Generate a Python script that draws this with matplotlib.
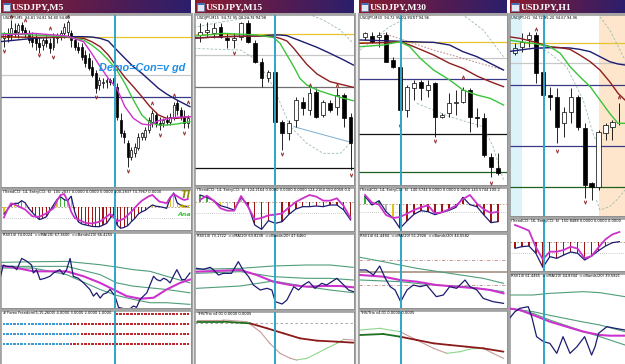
import matplotlib
matplotlib.use("Agg")
import matplotlib.pyplot as plt
import numpy as np
from matplotlib.colors import LinearSegmentedColormap
from matplotlib.patches import Rectangle

# ---------------- USDJPY M5 ----------------
m5_open = [95.045, 95.06, 95.055, 95.07, 95.065, 95.085, 95.07, 95.06, 95.05, 95.045,
           95.03, 95.025, 95.04, 95.03, 95.02, 95.045, 95.055, 95.06, 95.065, 95.06,
           95.04, 95.02, 95.02, 94.995, 94.985, 94.96, 94.94, 94.905, 94.91, 94.915,
           94.92, 94.925, 94.90, 94.80, 94.76, 94.73, 94.69, 94.70, 94.715, 94.75,
           94.75, 94.77, 94.795, 94.815, 94.79, 94.79, 94.80, 94.795, 94.805, 94.85,
           94.83, 94.81, 94.79]
m5_high = [95.065, 95.075, 95.10, 95.09, 95.09, 95.095, 95.08, 95.07, 95.065, 95.06,
           95.05, 95.045, 95.055, 95.045, 95.06, 95.06, 95.07, 95.09, 95.10, 95.07,
           95.05, 95.035, 95.03, 95.01, 95.00, 94.98, 94.95, 94.93, 94.925, 94.925,
           94.925, 94.93, 94.91, 94.82, 94.77, 94.74, 94.72, 94.73, 94.76, 94.765,
           94.78, 94.81, 94.83, 94.825, 94.81, 94.805, 94.815, 94.82, 94.855, 94.86,
           94.84, 94.83, 94.815]
m5_low = [95.02, 95.035, 95.04, 95.05, 95.045, 95.06, 95.05, 95.03, 95.02, 95.01,
          95.00, 95.01, 95.02, 95.00, 95.01, 95.03, 95.04, 95.045, 95.05, 95.02,
          95.01, 95.00, 94.98, 94.96, 94.95, 94.93, 94.88, 94.89, 94.895, 94.895,
          94.905, 94.89, 94.80, 94.75, 94.73, 94.66, 94.68, 94.69, 94.71, 94.74,
          94.74, 94.76, 94.78, 94.78, 94.77, 94.78, 94.785, 94.785, 94.80, 94.815,
          94.80, 94.775, 94.775]
m5_close = [95.06, 95.05, 95.075, 95.06, 95.085, 95.07, 95.06, 95.04, 95.035, 95.03,
            95.02, 95.04, 95.03, 95.015, 95.05, 95.055, 95.06, 95.08, 95.095, 95.04,
            95.02, 95.01, 94.99, 94.97, 94.955, 94.935, 94.895, 94.92, 94.915, 94.92,
            94.915, 94.905, 94.81, 94.76, 94.75, 94.69, 94.71, 94.72, 94.75, 94.76,
            94.77, 94.80, 94.82, 94.79, 94.785, 94.80, 94.795, 94.81, 94.845, 94.83,
            94.81, 94.79, 94.805]
m5_ma_x = [-1.1, 8.3, 17.7, 22.5, 24.8, 27.2, 29.5, 31.9, 34.2, 36.6, 39, 41.3, 43.7, 46, 48.9, 52.6]
m5_ma_navy = [95.035, 95.045, 95.05, 95.05, 95.049, 95.045, 95.037, 95.01, 94.985, 94.96,
              94.94, 94.918, 94.895, 94.878, 94.86, 94.84]
m5_ma_red = [95.05, 95.048, 95.048, 95.045, 95.035, 95.02, 94.995, 94.96, 94.928, 94.90,
             94.87, 94.84, 94.815, 94.805, 94.805, 94.81]
m5_ma_green = [95.06, 95.055, 95.05, 95.04, 95.025, 95.005, 94.98, 94.95, 94.91, 94.86,
               94.815, 94.792, 94.785, 94.785, 94.788, 94.795]
m5_ma_pink = [95.055, 95.06, 95.052, 95.035, 95.00, 94.96, 94.925, 94.895, 94.84, 94.805,
              94.788, 94.785, 94.798, 94.803, 94.808, 94.81]
m5_levels = [95.05, 94.935, 94.87]
m5_up_x = [2, 6, 13, 18, 42, 48, 52]
m5_up_y = [95.112, 95.10, 95.075, 95.112, 94.85, 94.875, 94.855]
m5_dn_x = [0, 10, 14, 26, 35, 44, 51]
m5_dn_y = [95.008, 94.995, 94.99, 94.868, 94.648, 94.755, 94.76]
m5_cci_trend = [-60, -20, 20, 36, 36, 60, 40, -10, -45, -80, -110, -100, -84, -30, 21, 70,
                96, 70, 60, 100, -40, -130, -150, -158, -165, -172, -174, -174, -160, -145,
                -100, -60, -160, -189, -180, -165, -130, -100, -60, -40, -26, 0, 21, 10, 6,
                0, -9, 80, 130, 40, 20, 10, 6]
m5_cci_entry = [-90, -20, 36, 25, 10, -5, -20, -50, -80, -84, -84, -70, -54, -30, -9, 60,
                111, 120, 60, -40, -95, -110, -125, -140, -144, -144, -138, -129, -110, -84,
                -60, -90, -125, -115, -100, -70, -40, -5, 30, 60, 80, 100, 111, 80, 51, 45,
                36, 90, 120, 100, 80, 66, 75]
m5_cci_cols = "yygyggy" + "rrrrrrr" + "gyggyy" + "r" * 21 + "yyyyyy" + "yyyyyy"
m5_rsi_x = [-1.1, -0.2, 0.75, 2.6, 3.6, 5, 6.4, 7.8, 8.3, 9.2, 10.2, 11.6, 13, 14, 15.8,
            16.8, 17.7, 18.7, 19.6, 21, 22.5, 24.3, 25.3, 26.2, 27.2, 28.1, 29.1, 30, 31.4,
            32.4, 33.8, 35.7, 36.6, 37.5, 38.5, 40.4, 42.3, 43.2, 44.2, 45.1, 46, 47, 47.9,
            48.9, 50.3, 51.2, 52.6]
m5_rsi = [46, 56, 55, 55, 52.5, 61, 59, 56, 50, 52.5, 45, 46, 47.5, 50, 52.5, 49, 52.5, 61,
          47.5, 46, 42.5, 37.5, 32.5, 35, 31, 34, 35, 37.5, 32.5, 24, 23, 23, 25, 24, 30,
          35, 47.5, 45, 44, 46, 45, 42.5, 47.5, 52.5, 45, 45, 50]
m5_rsi_ma_x = [-1.1, 3.6, 8.3, 13, 17.7, 22.5, 27.2, 31.9, 34.7, 38.5, 42.3, 46, 49.8, 52.6]
m5_rsi_ma = [55.5, 53.75, 51.25, 51.25, 51.25, 47.5, 42.5, 36.25, 32.5, 30.5, 31.25, 37.5, 42.5, 45]
m5_band_x = [-1.1, 8.3, 17.7, 27.2, 31.9, 36.6, 41.3, 46, 52.6]
m5_band_hi = [58, 58.5, 58.75, 56.25, 54.5, 52.5, 51.25, 47.5, 42.5]
m5_band_mid = [55, 55, 55, 48.75, 42.5, 40, 38.75, 37.5, 35]
m5_band_lo = [53.75, 53.75, 48.75, 37.5, 33, 30, 27.5, 27.5, 26.25]
ff_levels = [4, 3, 2, 1]
ff_start = [32, 0, 0, 0]
ff_red_from = [32, 19, 22, 19]

# ---------------- USDJPY M15 ----------------
m15_open = [95.195, 95.205, 95.20, 95.22, 95.185, 95.18, 95.19, 95.23, 95.17, 95.115, 95.065,
            95.085, 94.935, 94.90, 94.94, 94.995, 94.97, 95.025, 94.955, 94.99, 94.98, 95.015, 94.95]
m15_high = [95.23, 95.235, 95.23, 95.23, 95.20, 95.20, 95.235, 95.24, 95.18, 95.125, 95.09,
            95.09, 94.94, 94.94, 95.01, 95.01, 95.035, 95.035, 95.00, 95.00, 95.035, 95.02, 94.96]
m15_low = [95.175, 95.19, 95.185, 95.185, 95.155, 95.155, 95.18, 95.17, 95.11, 95.04, 95.055,
           94.93, 94.85, 94.88, 94.92, 94.955, 94.955, 94.945, 94.95, 94.965, 94.955, 94.92, 94.79]
m15_close = [95.205, 95.21, 95.215, 95.19, 95.18, 95.185, 95.23, 95.175, 95.115, 95.065, 95.085,
             94.935, 94.90, 94.93, 95.00, 94.975, 95.02, 94.95, 94.995, 94.97, 95.015, 94.945, 94.87]
m15_ma_x = [-1.5, 3.4, 8.3, 10.7, 11.7, 12.7, 13.7, 14.6, 15.6, 17.1, 19, 21, 22.4]
m15_ma_navy = [95.185, 95.19, 95.192, 95.195, 95.195, 95.193, 95.185, 95.178, 95.17, 95.158,
               95.14, 95.12, 95.105]
m15_ma_red = [95.185, 95.19, 95.192, 95.19, 95.185, 95.177, 95.155, 95.132, 95.107, 95.078,
              95.055, 95.045, 95.038]
m15_ma_green = [95.19, 95.20, 95.195, 95.188, 95.17, 95.135, 95.10, 95.065, 95.045, 95.03,
                95.017, 95.005, 94.998]
m15_env_hi_x = [-1.5, 3.4, 8.3, 13.2, 15.6, 18, 20.5, 22.4]
m15_env_hi = [95.215, 95.235, 95.25, 95.27, 95.26, 95.24, 95.21, 95.17]
m15_env_lo_x = [-1.5, 5.9, 8.3, 10.7, 13.2, 15.6, 18, 20.5, 22.4]
m15_env_lo = [95.155, 95.15, 95.12, 95.04, 94.92, 94.87, 94.84, 94.84, 94.88]
m15_trend_x = [13.7, 21.7]
m15_trend = [94.92, 94.875]
m15_levels = [95.198, 95.135, 95.038, 94.795]
m15_up_x = [16, 20]
m15_up_y = [95.045, 95.045]
m15_dn_x = [5, 12, 22]
m15_dn_y = [95.14, 94.838, 94.775]
m15_cci_trend = [60, 39, 9, -36, -54, -75, 39, -30, -210, -249, -171, -195, -180, -114, -66,
                 -45, -45, -39, -45, -30, -30, -75, -165]
m15_cci_entry = [15, 54, 9, -60, -81, -81, 51, -45, -159, -147, -123, -117, -105, -51, -3, 30,
                 60, 45, 9, 9, 30, -39, -150]
m15_cci_cols = "ggsyyrsr" + "r" * 15
m15_rsi_x = [-0.5, 0.5, 1.5, 2, 2.7, 3.4, 4.6, 5.6, 6.3, 7.1, 7.8, 8.8, 9.8, 10.5, 11, 12,
             12.7, 13.7, 14.4, 15.1, 15.9, 16.8, 17.8, 18.5, 20, 21, 21.7, 22.4]
m15_rsi = [53.75, 53, 54.5, 52.5, 48.75, 50, 50, 58.75, 52.5, 47.5, 41.25, 37.5, 38.75, 37.5,
           28.75, 27, 30, 40, 37.5, 41.25, 43.75, 38.75, 42.5, 41.25, 46.25, 41.25, 37.5, 36.25]
m15_rsi_ma_x = [-0.5, 3.4, 5.9, 8.3, 10.7, 13.2, 15.6, 18, 20.5, 22.4]
m15_rsi_ma = [51.25, 52, 52.5, 48.75, 43.75, 41.25, 40, 40.5, 40.5, 39.5]
m15_band_x = [-0.5, 5.9, 10.7, 15.6, 19, 22.4]
m15_band_hi = [53, 53.75, 55.5, 56.25, 56.25, 54.5]
m15_band_mid = [50, 51.25, 47.5, 46.25, 46.25, 45]
m15_band_lo = [38.75, 40.5, 44.25, 40, 37.5, 35.5]
m15_thv_slow_x = [-0.5, 3.4, 7.3, 9.8, 12.2, 14.6, 17.1, 20, 22.4]
m15_thv_slow = [0.05, 0.05, 0.0, -0.15, -0.3, -0.45, -0.52, -0.55, -0.58]
m15_thv_fast_x = [-0.5, 3.4, 6.8, 8.8, 10.2, 11.7, 13.2, 14.1, 15.6, 17.1, 18.5, 20, 21, 22.4]
m15_thv_fast = [0.1, 0.1, 0.05, -0.25, -0.6, -0.9, -1.05, -1.1, -1.05, -0.9, -0.75, -0.6, -0.48, -0.5]

# ---------------- USDJPY M30 ----------------
m30_open = [95.19, 95.192, 95.19, 95.195, 95.12, 95.10, 94.97, 95.035, 95.055, 95.03,
            95.05, 94.95, 94.96, 94.99, 94.995, 95.03, 94.95, 94.945, 94.83, 94.795]
m30_high = [95.205, 95.205, 95.205, 95.205, 95.13, 95.105, 95.045, 95.06, 95.06, 95.06,
            95.055, 94.96, 95.02, 95.03, 95.04, 95.035, 94.975, 94.96, 94.84, 94.84]
m30_low = [95.18, 95.17, 95.16, 95.115, 95.095, 94.93, 94.95, 95.00, 95.00, 95.01,
           94.89, 94.945, 94.95, 94.955, 94.99, 94.905, 94.92, 94.83, 94.77, 94.775]
m30_close = [95.20, 95.175, 95.195, 95.115, 95.10, 94.97, 95.04, 95.05, 95.035, 95.045,
             94.95, 94.955, 94.99, 94.995, 95.03, 94.95, 94.945, 94.835, 94.80, 94.78]
m30_ma_x = [-0.7, 2.6, 5, 6.4, 7.9, 9.8, 12.1, 14, 16, 17.9, 19.8]
m30_ma_navy = [95.18, 95.178, 95.176, 95.175, 95.174, 95.173, 95.165, 95.145, 95.13, 95.11, 95.09]
m30_ma_red = [95.17, 95.172, 95.175, 95.165, 95.152, 95.135, 95.11, 95.095, 95.072, 95.055, 95.04]
m30_ma_green = [95.16, 95.165, 95.175, 95.16, 95.125, 95.09, 95.06, 95.03, 95.015, 95.005, 94.985]
m30_dash_x = [2.6, 9.8, 19.8]
m30_dash = [95.20, 95.15, 95.09]
m30_env_hi_x = [-0.7, 3.5, 6.4, 13.6, 16.9, 19.8]
m30_env_hi = [95.15, 95.22, 95.25, 95.262, 95.21, 95.13]
m30_env_lo_x = [7.4, 12.1, 16.9, 18.3, 19.8]
m30_env_lo = [94.99, 94.95, 94.92, 94.86, 94.76]
m30_levels = [95.175, 95.125, 95.063, 94.897, 94.785]
m30_up_x = [14]
m30_up_y = [95.068]
m30_dn_x = [5, 10, 18]
m30_dn_y = [94.922, 94.878, 94.75]
m30_cci_trend = [92, -12, 40, -92, -168, -292, -204, -124, -80, -92, -128, -100, -76, -40, 80,
                 -8, -32, -132, -224, -212]
m30_cci_entry = [108, 16, -8, -132, -168, -156, -116, -72, -40, -16, -112, -100, -64, -20, 60,
                 108, 4, -64, -108, -92]
m30_cci_cols = "grgsy" + "r" * 15
m30_rsi_x = [-0.7, 0.2, 1.2, 2.1, 2.9, 3.6, 4.3, 5.1, 6, 6.9, 7.9, 8.8, 10.2, 11.2, 12.1,
             13.1, 14.3, 15, 16, 16.9, 18.3, 19.8]
m30_rsi = [52.5, 52.5, 48.75, 55.5, 46.25, 40, 37.5, 28.75, 37.5, 41.25, 40, 41.25, 32.5,
           33.75, 40, 38.75, 45, 40, 37.5, 31.25, 28.75, 27.5]
m30_rsi_ma_x = [-0.7, 2.6, 5, 7.4, 10.2, 13.1, 16, 17.9, 19.8]
m30_rsi_ma = [48.75, 47.5, 45, 43.75, 41.25, 40, 38.75, 37.5, 35]
m30_band_hi_x = [-0.7, 2.6, 7.4, 12.1, 16.9, 19.8]
m30_band_hi = [62, 58.75, 53.75, 50, 46.25, 42.5]
m30_band_lo_x = [-0.7, 5, 9.8, 14.5, 19.8]
m30_band_lo = [45, 43.75, 41.25, 40, 36.25]
m30_rsi_levels = [60, 51.25, 41.25]
m30_thv_slow_x = [-0.7, 2.6, 5, 7.4, 9.8, 12.1, 14.5, 16.9, 19.8]
m30_thv_slow = [-0.35, -0.32, -0.4, -0.5, -0.6, -0.65, -0.7, -0.75, -0.85]
m30_thv_fast_x = [-0.7, 2.1, 5, 7.4, 9.8, 11.7, 13.6, 15.5, 16.9, 18.3, 19.8]
m30_thv_fast = [-0.2, -0.15, -0.25, -0.5, -0.75, -0.9, -0.85, -0.75, -0.75, -0.9, -1.05]

# ---------------- USDJPY H1 ----------------
h1_open = [95.24, 95.26, 95.282, 95.295, 95.185, 95.115, 95.11, 95.03, 95.065, 95.11,
           95.015, 94.85, 94.84, 95.00, 95.02, 95.03]
h1_high = [95.27, 95.30, 95.305, 95.305, 95.20, 95.14, 95.135, 95.08, 95.135, 95.115,
           95.03, 94.855, 95.01, 95.03, 95.04, 95.09]
h1_low = [95.235, 95.245, 95.26, 95.15, 95.115, 95.07, 94.97, 94.99, 95.03, 95.01,
          94.806, 94.80, 94.83, 94.98, 94.98, 95.025]
h1_close = [95.255, 95.275, 95.295, 95.18, 95.115, 95.11, 95.02, 95.065, 95.11, 95.02,
            94.845, 94.84, 95.005, 95.025, 95.035, 95.03]
h1_ma_x = [-1, 0.7, 2.6, 5, 6.5, 7.9, 9.3, 10.8, 12.2, 13.6, 14.8, 15.8]
h1_ma_navy = [95.245, 95.25, 95.255, 95.257, 95.257, 95.256, 95.252, 95.245, 95.23, 95.215, 95.208, 95.205]
h1_ma_red = [95.29, 95.285, 95.275, 95.26, 95.257, 95.252, 95.235, 95.215, 95.19, 95.155, 95.12, 95.10]
h1_ma_green = [95.28, 95.275, 95.27, 95.26, 95.24, 95.20, 95.17, 95.14, 95.10, 95.06, 95.03, 95.03]
h1_env_a_x = [2.6, 5, 7.4, 9.8, 11.2, 12.2]
h1_env_a = [95.27, 95.24, 95.20, 95.10, 95.00, 94.95]
h1_env_b_x = [11.7, 12.2, 13.6, 14.6, 15.8]
h1_env_b = [94.80, 94.77, 94.78, 94.80, 94.83]
h1_env_c_x = [12.2, 13.6, 14.6, 15.8]
h1_env_c = [95.35, 95.31, 95.27, 95.22]
h1_levels = [95.27, 95.21, 95.145, 94.963, 94.84]
h1_up_x = [3, 15]
h1_up_y = [95.312, 95.108]
h1_dn_x = [6, 10]
h1_dn_y = [94.948, 94.794]
h1_session_a = [-0.72, 0.96]
h1_session_b = [12.1, 15.8]
h1_cci_trend = [-60, -45, -39, -105, -231, -135, -150, -120, -93, -105, -165, -129, -81, -39, -9, 0]
h1_cci_entry = [150, 126, 99, -51, -159, -90, -90, -75, -45, -63, -150, -129, -51, 21, 66, 87]
h1_cci_cols = "r" * 16
h1_rsi_x = [-1, 0, 0.7, 1.9, 2.4, 3.1, 4.1, 5, 6, 6.9, 7.9, 8.9, 10, 11, 11.5, 12, 13.2, 14.4, 15.8]
h1_rsi = [52.5, 58.75, 61.25, 62.5, 55, 40, 36.25, 35, 27.5, 40, 27.5, 32.5, 40, 26.25, 32.5,
          42.5, 47.5, 46.25, 45]
h1_rsi_ma_x = [-1, 0.7, 2.6, 5, 7.4, 9.8, 12.2, 13.6, 15.8]
h1_rsi_ma = [61.25, 60, 56.25, 51.25, 47.5, 43.75, 41.25, 40.75, 40.75]
h1_band_x = [-1, 2.6, 5, 9.8, 12.2, 15.8]
h1_band_hi = [71.25, 71.25, 72.5, 73.75, 73, 70]
h1_band_mid = [61.25, 58.75, 56, 51, 48.75, 43.75]
h1_band_lo = [61.25, 57.5, 52.5, 44, 40, 33.75]

cursor = {"m5": 31.4, "m15": 10.9, "m30": 5.1, "h1": 4.1}

# ---------------- drawing ----------------
W, H = 625, 364
NAVY = "#1c1c72"
DRED = "#8e1e1e"
GREEN = "#3cc43c"
PINK = "#cc33cc"
CYAN = "#2fa6c9"
BAND = "#4f9e7a"
ARROW = "#9a2a2a"
HIST = {"r": "#a01515", "y": "#e0c21a", "g": "#3fae3f", "s": "#b5b5b5"}
THIN = {"p": "#c99a9a", "g": "#8fd68f"}
THICK = {"r": "#8b1a1a", "g": "#1f6f1f"}
HFS = 2.6

fig = plt.figure(figsize=(W / 100, H / 100), dpi=100)
fig.patch.set_facecolor("white")
title_cmap = LinearSegmentedColormap.from_list("tb", ["#8b1d2f", "#5a1c4e", "#2b1f6c"])


def frame(x0, x1):
    fig.add_artist(Rectangle(((x0 - 1) / W, 0), (x1 - x0 + 2) / W, 1 - 13 / H,
                             transform=fig.transFigure, color="#a4a4a4", zorder=0))
    ax = fig.add_axes([x0 / W, 1 - 13 / H, (x1 - x0) / W, 13 / H])
    ax.imshow(np.linspace(0, 1, 256).reshape(1, -1), aspect="auto", cmap=title_cmap,
              extent=(0, 1, 0, 1))
    ax.axis("off")
    return ax


def title(x0, x1, text):
    ax = frame(x0, x1)
    wpx = x1 - x0
    ax.add_patch(Rectangle((1.5 / wpx, 0.18), 7 / wpx, 0.62, transform=ax.transAxes,
                           facecolor="#dfe8f4", edgecolor="#5a7ab0", lw=0.5))
    ax.add_patch(Rectangle((1.5 / wpx, 0.62), 7 / wpx, 0.18, transform=ax.transAxes,
                           facecolor="#3f6fb8", lw=0))
    ax.text(11 / wpx, 0.45, text, transform=ax.transAxes, color="white", fontsize=6.8,
            fontweight="bold", family="Liberation Serif", va="center", ha="left")


def pane(x0, y0, x1, y1, xlim, ylim):
    ax = fig.add_axes([x0 / W, 1 - y1 / H, (x1 - x0) / W, (y1 - y0) / H])
    ax.set_xlim(*xlim)
    ax.set_ylim(*ylim)
    ax.set_xticks([])
    ax.set_yticks([])
    for s in ax.spines.values():
        s.set_color("#8a8a8a")
        s.set_linewidth(0.5)
    return ax


def header(ax, text):
    ax.text(0.01, 0.995, text, transform=ax.transAxes, va="top", ha="left",
            fontsize=HFS, color="black", zorder=9)


def candles(ax, o, h, l, c, body_w):
    idx = np.arange(len(o))
    o = np.asarray(o)
    c = np.asarray(c)
    ax.vlines(idx, l, h, color="black", lw=0.6, zorder=3)
    face = ["white" if cc >= oo else "black" for oo, cc in zip(o, c)]
    ax.bar(idx, np.abs(c - o), bottom=np.minimum(o, c), width=body_w, color=face,
           edgecolor="black", linewidth=0.5, zorder=4)


def fractals(ax, ux, uy, dx, dy):
    ax.plot(ux, uy, ls="none", marker=r"$\wedge$", ms=2.3, mew=0.3, color=ARROW, zorder=6)
    ax.plot(dx, dy, ls="none", marker=r"$\vee$", ms=2.3, mew=0.3, color=ARROW, zorder=6)


def mas(ax, x, navy, red, green, pink=None):
    ax.plot(x, navy, color=NAVY, lw=1.0, zorder=5)
    ax.plot(x, red, color=DRED, lw=1.0, zorder=5)
    ax.plot(x, green, color=GREEN, lw=1.0, zorder=5)
    if pink is not None:
        ax.plot(x, pink, color=PINK, lw=1.0, zorder=5)


def levels(ax, vals, cols):
    for v, col in zip(vals, cols):
        ax.axhline(v, color=col, lw=0.9, zorder=2)


def cci(ax, trend, entry, cols, bar_w, text):
    idx = np.arange(len(trend))
    ax.bar(idx, trend, width=bar_w, color=[HIST[k] for k in cols], zorder=2)
    ax.axhline(0, color="#b29a7a", ls=(0, (2, 2)), lw=0.6, zorder=1)
    ax.axhline(-100, color="#9a9a9a", ls=(0, (1, 2)), lw=0.5, zorder=1)
    ax.plot(idx, trend, color=NAVY, lw=0.9, zorder=3)
    ax.plot(idx, entry, color=PINK, lw=1.3, zorder=4)
    header(ax, text)


def rsi(ax, x, vals, ma_x, ma, bands, text):
    for bx, by in bands:
        ax.plot(bx, by, color=BAND, lw=0.8, zorder=2)
    ax.plot(ma_x, ma, color=PINK, lw=1.5, zorder=3)
    ax.plot(x, vals, color=NAVY, lw=0.9, zorder=4)
    header(ax, text)


def thv(ax, sx, sv, scols, fx, fv, fcols, text):
    for i in range(len(fv) - 1):
        ax.plot(fx[i:i + 2], fv[i:i + 2], color=THIN[fcols[i]], lw=0.8, zorder=2)
    for i in range(len(sv) - 1):
        ax.plot(sx[i:i + 2], sv[i:i + 2], color=THICK[scols[i]], lw=1.3, zorder=3,
                solid_capstyle="round")
    header(ax, text)


def cursor_line(axes, x):
    for ax in axes:
        ax.axvline(x, color=CYAN, lw=1.4, zorder=7)


# ----- window 1 : M5 -----
x0, x1 = 1, 191
xl = (-0.85, 52.9)
title(x0, x1, "USDJPY,M5")
a_main = pane(x0, 15, x1, 187, xl, (94.599, 95.115))
levels(a_main, m5_levels, ["#e6c42c", "#c8c8c8", "#3a3a86"])
candles(a_main, m5_open, m5_high, m5_low, m5_close, 0.55)
mas(a_main, m5_ma_x, m5_ma_navy, m5_ma_red, m5_ma_green, m5_ma_pink)
fractals(a_main, m5_up_x, m5_up_y, m5_dn_x, m5_dn_y)
header(a_main, "USDJPY,M5  94.81 94.81 94.80 94.81")
a_main.text(26.9, 94.955, "Demo=Con=v gd", color="#1f8fe6", fontsize=7.8, fontweight="bold",
            style="italic", family="Liberation Sans", va="center", ha="left", zorder=8)
a_cci = pane(x0, 190, x1, 230, xl, (-204, 156))
cci(a_cci, m5_cci_trend, m5_cci_entry, m5_cci_cols, 0.3,
    "(TrendCCI: 14, EntryCCI: 6)  100.2837 0.0000 0.0000 0.0000 100.2837 74.7967 0.0000")
a_cci.text(52.9, 112, "TI", color="#8c8c10", fontsize=7, fontweight="bold", style="italic",
           va="center", ha="right", zorder=8)
a_cci.text(52.9, 5, "Asc", color="#c9b516", fontsize=4.6, fontweight="bold", style="italic",
           va="center", ha="right", zorder=8)
a_cci.text(52.9, -68, "Ana", color="#36c436", fontsize=4.6, fontweight="bold", style="italic",
           va="center", ha="right", zorder=8)
a_rsi = pane(x0, 233, x1, 308, xl, (23.5, 80.25))
rsi(a_rsi, m5_rsi_x, m5_rsi, m5_rsi_ma_x, m5_rsi_ma,
    [(m5_band_x, m5_band_hi), (m5_band_x, m5_band_mid), (m5_band_x, m5_band_lo)],
    "RSI(14) 74.0024  ==MA(20) 67.3600  ==Bands(20) 66.4255")
a_ff = pane(x0, 311, x1, 364, xl, (-1, 4.3))
for lvl, start, red_from in zip(ff_levels, ff_start, ff_red_from):
    bars = np.arange(start, len(m5_close))
    cols = np.where(bars < red_from, "#3d9ad6", "#c0282d")
    a_ff.scatter(bars, np.full(len(bars), lvl), marker="s", s=3.2, c=cols, linewidths=0, zorder=3)
header(a_ff, "# Forex Freedom(5,15,2600) 4.0000 3.0000 2.0000 1.0000")
cursor_line([a_main, a_cci, a_rsi, a_ff], cursor["m5"])

# ----- window 2 : M15 -----
x0, x1 = 195, 354
xl = (-0.73, 22.5)
title(x0, x1, "USDJPY,M15")
a_main = pane(x0, 15, x1, 185, xl, (94.745, 95.255))
levels(a_main, m15_levels, ["#e6c42c", "#c8c8c8", "#707070", "#111111"])
a_main.plot(m15_env_hi_x, m15_env_hi, color="#9cbcb0", lw=0.6, ls=(0, (3, 2)), zorder=2)
a_main.plot(m15_env_lo_x, m15_env_lo, color="#9cbcb0", lw=0.6, ls=(0, (3, 2)), zorder=2)
a_main.plot(m15_trend_x, m15_trend, color="#7aaed0", lw=0.7, zorder=2)
candles(a_main, m15_open, m15_high, m15_low, m15_close, 0.55)
mas(a_main, m15_ma_x, m15_ma_navy, m15_ma_red, m15_ma_green)
fractals(a_main, m15_up_x, m15_up_y, m15_dn_x, m15_dn_y)
header(a_main, "USDJPY,M15  94.72 95.08 94.72 94.98")
a_cci = pane(x0, 188, x1, 231, xl, (-264, 123))
cci(a_cci, m15_cci_trend, m15_cci_entry, m15_cci_cols, 0.2,
    "(TrendCCI: 14, EntryCCI: 6)  124.2164 0.0000 0.0000 0.0000 124.2164 150.0058 0.0")
a_rsi = pane(x0, 234, x1, 309, xl, (23.25, 79.5))
rsi(a_rsi, m15_rsi_x, m15_rsi, m15_rsi_ma_x, m15_rsi_ma,
    [(m15_band_x, m15_band_hi), (m15_band_x, m15_band_mid), (m15_band_x, m15_band_lo)],
    "RSI(14) 73.1722  ==MA(20) 63.8238  ==Bands(20) 47.6460")
a_thv = pane(x0, 312, x1, 364, xl, (-1.22, 0.34))
a_thv.axhline(0, color="#9a9a9a", ls=(0, (3, 3)), lw=0.6)
thv(a_thv, m15_thv_slow_x, m15_thv_slow, "ggrrrrrr", m15_thv_fast_x, m15_thv_fast,
    "pppppppgggggp", "THV/Trix v4.01 0.0000 0.0005")
cursor_line([a_main, a_cci, a_rsi, a_thv], cursor["m15"])

# ----- window 3 : M30 -----
x0, x1 = 359, 507
xl = (-0.86, 20.3)
title(x0, x1, "USDJPY,M30")
a_main = pane(x0, 15, x1, 185, xl, (94.745, 95.255))
levels(a_main, m30_levels, ["#e6c42c", "#c8c8c8", "#3a3a86", "#111111", "#1f5f1f"])
a_main.plot(m30_env_hi_x, m30_env_hi, color="#9cbcb0", lw=0.6, ls=(0, (3, 2)), zorder=2)
a_main.plot(m30_env_lo_x, m30_env_lo, color="#9cbcb0", lw=0.6, ls=(0, (3, 2)), zorder=2)
a_main.plot(m30_dash_x, m30_dash, color="#b07070", lw=0.6, ls=(0, (2, 2)), zorder=2)
candles(a_main, m30_open, m30_high, m30_low, m30_close, 0.55)
mas(a_main, m30_ma_x, m30_ma_navy, m30_ma_red, m30_ma_green)
fractals(a_main, m30_up_x, m30_up_y, m30_dn_x, m30_dn_y)
header(a_main, "USDJPY,M30  94.72 95.03 94.67 94.96")
a_cci = pane(x0, 188, x1, 231, xl, (-324, 192))
cci(a_cci, m30_cci_trend, m30_cci_entry, m30_cci_cols, 0.2,
    "(TrendCCI: 14, EntryCCI: 6)  140.5744 0.0000 0.0000 0.0000 140.5744 100.2")
a_rsi = pane(x0, 234, x1, 308, xl, (24, 79.5))
a_rsi.axhline(m30_rsi_levels[0], color="#c08888", ls=(0, (4, 2, 1, 2)), lw=0.6)
a_rsi.axhline(m30_rsi_levels[1], color="#a89080", lw=1.2)
a_rsi.axhline(m30_rsi_levels[2], color="#c08888", ls=(0, (4, 2, 1, 2)), lw=0.6)
rsi(a_rsi, m30_rsi_x, m30_rsi, m30_rsi_ma_x, m30_rsi_ma,
    [(m30_band_hi_x, m30_band_hi), (m30_band_lo_x, m30_band_lo)],
    "RSI(14) 61.4484  ==MA(20) 51.2926  ==Bands(20) 44.5582")
a_thv = pane(x0, 311, x1, 364, xl, (-1.22, 0.37))
thv(a_thv, m30_thv_slow_x, m30_thv_slow, "ggrrrrrr", m30_thv_fast_x, m30_thv_fast,
    "ggpppgggpp", "THV/Trix v4.01 0.0000 0.0005")
cursor_line([a_main, a_cci, a_rsi, a_thv], cursor["m30"])

# ----- window 4 : H1 -----
x0, x1 = 510, 625
xl = (-0.72, 15.8)
title(x0, x1, "USDJPY,H1")
a_main = pane(x0, 15, x1, 216, xl, (94.752, 95.355))
a_main.axvspan(*h1_session_a, color="#dcf3fa", zorder=0, lw=0)
a_main.axvspan(*h1_session_b, color="#fde6cc", zorder=0, lw=0)
levels(a_main, h1_levels, ["#e6c42c", "#c8c8c8", "#3a3a86", "#3a3a86", "#1f5f1f"])
for ex, ey in [(h1_env_a_x, h1_env_a), (h1_env_b_x, h1_env_b), (h1_env_c_x, h1_env_c)]:
    a_main.plot(ex, ey, color="#9cbcb0", lw=0.6, ls=(0, (3, 2)), zorder=2)
candles(a_main, h1_open, h1_high, h1_low, h1_close, 0.6)
mas(a_main, h1_ma_x, h1_ma_navy, h1_ma_red, h1_ma_green)
fractals(a_main, h1_up_x, h1_up_y, h1_dn_x, h1_dn_y)
header(a_main, "USDJPY,H1  94.72 95.20 94.67 94.96")
a_cci = pane(x0, 219, x1, 271, xl, (-264, 204))
cci(a_cci, h1_cci_trend, h1_cci_entry, h1_cci_cols, 0.18,
    "(TrendCCI: 16, EntryCCI: 6)  150.8488 0.0000 0.0000 0.0000")
a_rsi = pane(x0, 274, x1, 364, xl, (19.5, 87))
rsi(a_rsi, h1_rsi_x, h1_rsi, h1_rsi_ma_x, h1_rsi_ma,
    [(h1_band_x, h1_band_hi), (h1_band_x, h1_band_mid), (h1_band_x, h1_band_lo)],
    "RSI(14) 61.4465  ==MA(20) 44.8344  ==Bands(20) 39.5821")
cursor_line([a_main, a_cci, a_rsi], cursor["h1"])

fig.savefig("out.png", dpi=100)
